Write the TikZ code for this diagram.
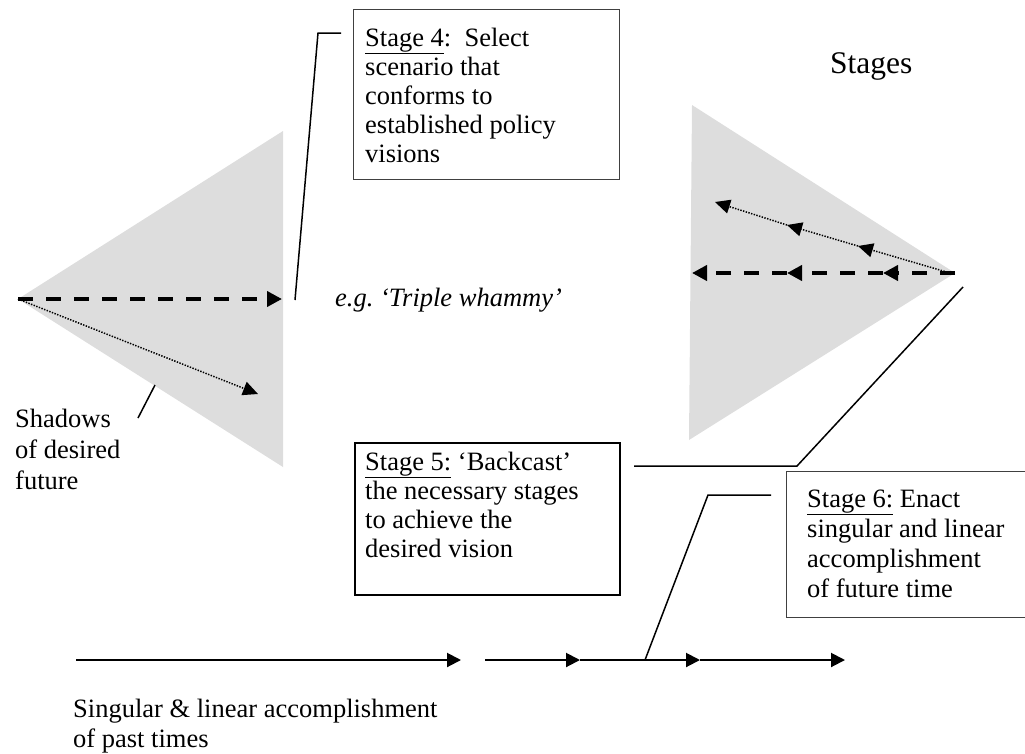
\documentclass[tikz,border=0pt]{standalone}
\usepackage{fontspec}
\setmainfont{Liberation Serif}
\usetikzlibrary{arrows.meta}
\definecolor{shadegray}{HTML}{DDDDDD}
\definecolor{boxgray}{HTML}{404040}
\frenchspacing
\begin{document}
\begin{tikzpicture}[x=1pt,y=-1pt,
  txt/.style={inner sep=0pt, anchor=base west, font=\fontsize{26.5}{29}\selectfont},
  thinbox/.style={draw=boxgray, line width=0.9pt, inner sep=0pt, anchor=north west},
  thickbox/.style={draw=black, line width=1.8pt, inner sep=0pt, anchor=north west},
  shade/.style={fill=shadegray, draw=none},
  conn/.style={line width=1.5pt},
  bigdash/.style={line width=4pt, dash pattern=on 15pt off 13pt, -{Triangle[length=15pt,width=15pt]}},
  fdot/.style={line width=1.5pt, dash pattern=on 1.4pt off 1.4pt, -{Triangle[length=15pt,width=14pt]}},
  timearrow/.style={line width=2pt, -{Triangle[length=14pt,width=14pt]}}
]
\useasboundingbox (0,0) rectangle (1025,753);
\clip (0,0) rectangle (1025,753);

% left shadow triangle
\coordinate (La) at (18,299);
\coordinate (Lt) at (283,131);
\coordinate (Lb) at (283,467);
\fill[shade] (La) -- (Lt) -- (Lb) -- cycle;
\coordinate (Ld) at (282,299);
\coordinate (Ldot) at (258,394);
\draw[bigdash] (La) -- (Ld);
\draw[fdot] (La) -- (Ldot);

% shadows pointer
\coordinate (sh1) at (155,385);
\coordinate (sh2) at (138,418);
\draw[conn] (sh1) -- (sh2);
\node[txt, font=\fontsize{26.5}{31}\selectfont] (shadows) at (15,427) {\parbox[t]{200pt}{Shadows\\of desired\\future}};

% right triangle
\coordinate (Ra) at (955,273);
\coordinate (Rt) at (692,105);
\coordinate (Rb) at (689,440);
\fill[shade] (Ra) -- (Rt) -- (Rb) -- cycle;
\coordinate (Rd1) at (883,273);
\coordinate (Rd2) at (787,273);
\coordinate (Rd3) at (692,273);
\draw[bigdash] (Ra) -- (Rd1);
\draw[bigdash] (Rd1) -- (Rd2);
\draw[bigdash] (Rd2) -- (Rd3);
\coordinate (Rs0) at (950,273);
\coordinate (Rs1) at (858,246);
\coordinate (Rs2) at (787,225);
\coordinate (Rs3) at (715,202);
\draw[fdot] (Rs0) -- (Rs1);
\draw[fdot] (Rs1) -- (Rs2);
\draw[fdot] (Rs2) -- (Rs3);

\node[txt, font=\fontsize{31.5}{34}\selectfont] (stages) at (830,73) {Stages};

% Stage 4 box
\node[thinbox, minimum width=266pt, minimum height=170pt] (box4) at (353,9) {};
\node[txt] (t4) at (365,46) {\parbox[t]{250pt}{\underline{Stage 4}:\ \ Select\\scenario that\\conforms to\\established policy\\visions}};
\coordinate (c4a) at (341,33);
\coordinate (c4b) at (318,33);
\coordinate (c4c) at (295,300);
\draw[conn] (c4a) -- (c4b) -- (c4c);
\node[txt, font=\fontsize{26.5}{29}\selectfont\itshape] (eg) at (335,306) {e.g. ‘Triple whammy’};

% Stage 5 box
\node[thickbox, minimum width=265pt, minimum height=152pt] (box5) at (354,442) {};
\node[txt] (t5) at (365,470) {\parbox[t]{250pt}{\underline{Stage 5:} ‘Backcast’\\the necessary stages\\to achieve the\\desired vision}};
\coordinate (c5a) at (963,287);
\coordinate (c5b) at (797,466);
\coordinate (c5c) at (634,466);
\draw[conn] (c5a) -- (c5b) -- (c5c);

% Stage 6 box
\node[thinbox, minimum width=250pt, minimum height=146pt] (box6) at (786,471) {};
\node[txt, font=\fontsize{26.5}{30}\selectfont] (t6) at (807,507) {\parbox[t]{230pt}{\underline{Stage 6:} Enact\\singular and linear\\accomplishment\\of future time}};

% timeline
\coordinate (tl0) at (76,660);
\coordinate (tl1) at (461,660);
\coordinate (tl2) at (485,660);
\coordinate (tl3) at (580,660);
\coordinate (tl4) at (700,660);
\coordinate (tl5) at (845,660);
\draw[timearrow] (tl0) -- (tl1);
\draw[timearrow] (tl2) -- (tl3);
\draw[timearrow] (tl3) -- (tl4);
\draw[timearrow] (tl4) -- (tl5);

\coordinate (c6a) at (771,495);
\coordinate (c6b) at (708,495);
\coordinate (c6c) at (645,660);
\draw[conn] (c6a) -- (c6b) -- (c6c);

\node[txt, font=\fontsize{26.5}{30}\selectfont] (past) at (73,717) {\parbox[t]{450pt}{Singular \& linear accomplishment\\of past times}};
\end{tikzpicture}
\end{document}
